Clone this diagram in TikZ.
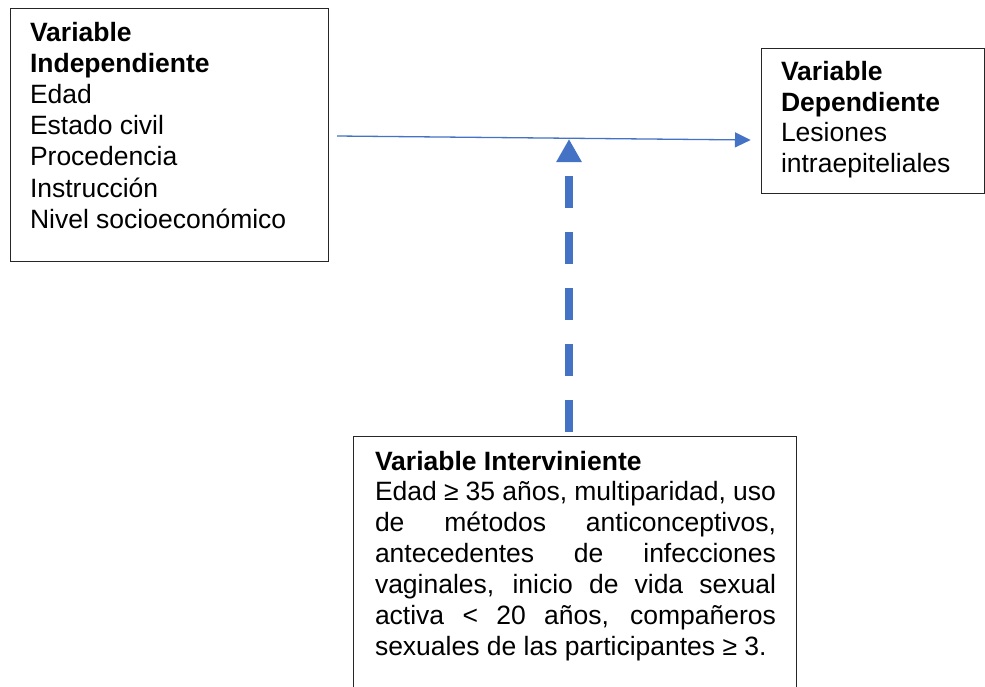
\documentclass[tikz,border=0pt]{standalone}
\usepackage{fontspec}
\setmainfont{Liberation Sans}
\usetikzlibrary{arrows.meta}
\definecolor{arrowblue}{HTML}{4472C4}
\newcommand{\jline}[1]{\makebox[401pt][s]{#1}}
\begin{document}
\begin{tikzpicture}[x=1pt,y=-1pt,
  varbox/.style={draw=black!85, line width=1pt, rectangle, anchor=north west, inner sep=0pt, outer sep=0pt},
  vartext/.style={anchor=base west, inner sep=0pt, outer sep=0pt, text=black},
  thinarrow/.style={draw=arrowblue, line width=1.3pt, -{Triangle[length=15.7pt,width=15pt]}},
  dasharrow/.style={draw=arrowblue, line width=8.3pt, dash pattern=on 32pt off 24pt, -{Triangle[length=23pt,width=24pt]}}
]
\useasboundingbox (0,0) rectangle (985,686);
% boxes
\node[varbox, minimum width=318pt, minimum height=252.7pt] (b1) at (10,8.3) {};
\node[varbox, minimum width=223.3pt, minimum height=145pt] (b2) at (761,48.3) {};
\node[varbox, minimum width=442.7pt, minimum height=300pt] (b3) at (353.3,436) {};
% texts
\node[vartext] (t1) at (30,41.5) {\parbox[t]{290pt}{\fontsize{26.5}{31.1}\selectfont
  \textbf{Variable}\\
  \textbf{Independiente}\\
  Edad\\
  Estado civil\\
  Procedencia\\
  Instrucción\\
  Nivel socioeconómico}};
\node[vartext] (t2) at (781,80.5) {\parbox[t]{200pt}{\fontsize{26.5}{30.5}\selectfont
  \textbf{Variable}\\
  \textbf{Dependiente}\\
  Lesiones\\
  intraepiteliales}};
\node[vartext] (t3) at (375,470) {\parbox[t]{401pt}{\fontsize{26.5}{30.9}\selectfont
  \textbf{Variable Interviniente}\\
  \jline{Edad ≥ 35 años, multiparidad, uso}\\
  \jline{de métodos anticonceptivos,}\\
  \jline{antecedentes de infecciones}\\
  \jline{vaginales, inicio de vida sexual}\\
  \jline{activa < 20 años, compañeros}\\
  sexuales de las participantes ≥ 3.}};
% connectors
\coordinate (hs) at (337,136);
\coordinate (he) at (750.7,140);
\draw[thinarrow] (hs) -- (he);
\coordinate (ds) at (569,431.7);
\coordinate (dt) at (569,139);
\draw[dasharrow] (ds) -- (dt);
\end{tikzpicture}
\end{document}
